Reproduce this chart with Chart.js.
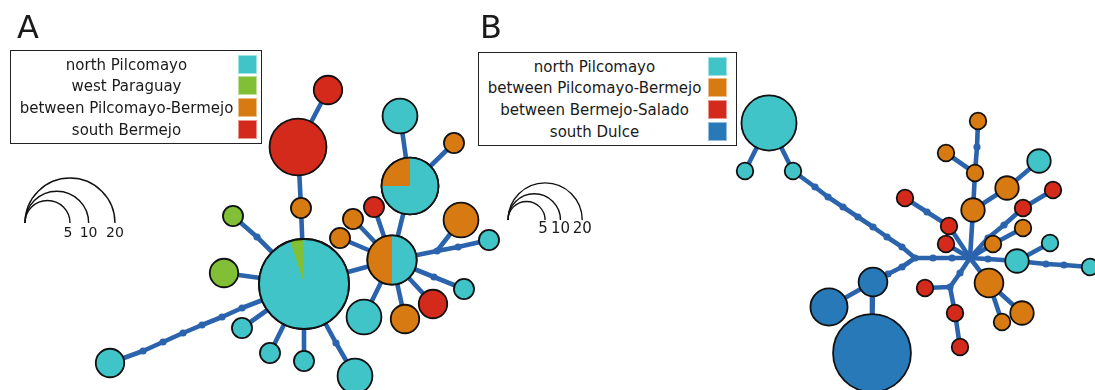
<!DOCTYPE html>
<html>
<head>
<meta charset="utf-8">
<title>Haplotype networks</title>
<script src="https://cdn.jsdelivr.net/npm/chart.js@4/dist/chart.umd.min.js"></script>
<style>
  body { margin: 0; background: #fff; }
  #wrap { position: relative; width: 1095px; height: 390px; overflow: hidden; font-family: 'DejaVu Sans', sans-serif; color: #1a1a1a; }
  #net { position: absolute; left: 0; top: 0; }
  .tag { position: absolute; font-size: 32px; line-height: 32px; }
  .legend { position: absolute; box-sizing: border-box; border: 1.5px solid #222; background: #fff; }
  .legend .lab { position: absolute; left: 0; width: 231px; height: 20px; line-height: 20px; font-size: 15px; text-align: center; white-space: nowrap; }
  .legend .sw { position: absolute; width: 19px; height: 19px; box-shadow: inset 0 0 0 1px rgba(255,255,255,0.5); }
  .tick { position: absolute; font-size: 14px; line-height: 16px; transform: translateX(-50%); }
</style>
</head>
<body>
<div id="wrap">
  <canvas id="net" width="1095" height="390"></canvas>
  <div class="tag" style="left:17px;top:11px">A</div>
  <div class="tag" style="left:480px;top:11px">B</div>
  <div class="legend" id="legA" style="left:10px;top:50px;width:252px;height:94px"></div>
  <div class="legend" id="legB" style="left:478px;top:52px;width:259px;height:94px"></div>
</div>
<script>
// ---- data ----
const categoryNames = {
  NP: 'north Pilcomayo',
  WP: 'west Paraguay',
  PB: 'between Pilcomayo-Bermejo',
  SB: 'south Bermejo',
  BS: 'between Bermejo-Salado',
  SD: 'south Dulce'
};
const legendA = ['NP', 'WP', 'PB', 'SB'];
const legendB = ['NP', 'PB', 'BS', 'SD'];
const sizeTicks = [5, 10, 20];

// panel A: haplotype frequencies per region
const hapA_counts = [
  { NP: 19, WP: 1 }, { SB: 8 }, { SB: 2 }, { PB: 1 }, { WP: 1 }, { WP: 2 },
  { NP: 1 }, { NP: 1 }, { NP: 1 }, { NP: 3 }, { NP: 2 }, { PB: 3, NP: 3 },
  { PB: 1 }, { PB: 1 }, { SB: 1 }, { PB: 2, NP: 6 }, { NP: 3 }, { PB: 1 },
  { PB: 3 }, { NP: 1 }, { NP: 1 }, { SB: 2 }, { PB: 2 }, { NP: 3 }
];
// network layout of panel A
const hapA_layout = [
  [304, 284], [298, 147], [328, 90], [301, 208], [233, 216], [224, 273],
  [242, 328], [270, 353], [304, 361], [355, 376], [110, 363], [392, 260],
  [340, 238], [353, 219], [374, 207], [410, 186], [400, 116], [454, 143],
  [461, 220], [489, 240], [464, 289], [433, 304], [405, 319], [364, 317]
];
const medA_layout = [
  [257, 237], [336, 343], [437, 251], [458, 247], [434, 277],
  [242, 308], [222, 317], [202, 325], [183, 333], [163, 342], [143, 351]
];
const edgesA = [
  ['h0', 'm5'], ['m5', 'm6'], ['m6', 'm7'], ['m7', 'm8'], ['m8', 'm9'], ['m9', 'm10'], ['m10', 'h10'],
  ['h0', 'm0'], ['m0', 'h4'], ['h0', 'h5'], ['h0', 'h3'], ['h3', 'h1'], ['h1', 'h2'],
  ['h0', 'h6'], ['h0', 'h7'], ['h0', 'h8'], ['h0', 'm1'], ['m1', 'h9'], ['h0', 'h11'],
  ['h11', 'h12'], ['h11', 'h13'], ['h11', 'h14'], ['h11', 'h15'], ['h15', 'h16'], ['h15', 'h17'],
  ['h11', 'm2'], ['m2', 'm3'], ['m3', 'h19'], ['m2', 'h18'], ['h11', 'm4'], ['m4', 'h20'],
  ['h11', 'h21'], ['h11', 'h22'], ['h11', 'h23']
];

// panel B
const hapB_counts = [
  { NP: 11 }, { NP: 1 }, { NP: 1 }, { SD: 3 }, { SD: 5 }, { SD: 22 },
  { BS: 1 }, { BS: 1 }, { BS: 1 }, { PB: 2 }, { PB: 1 }, { PB: 1 },
  { PB: 1 }, { PB: 2 }, { NP: 2 }, { BS: 1 }, { BS: 1 }, { PB: 1 },
  { PB: 1 }, { NP: 2 }, { NP: 1 }, { NP: 1 }, { PB: 3 }, { PB: 2 },
  { PB: 1 }, { BS: 1 }, { BS: 1 }, { BS: 1 }
];
const hapB_layout = [
  [769, 123], [745, 171], [793, 171], [873, 282], [829, 307], [872, 353],
  [946, 244], [949, 226], [905, 198], [973, 210], [975, 173], [978, 121],
  [946, 153], [1007, 188], [1039, 161], [1023, 208], [1053, 190], [993, 244],
  [1023, 228], [1017, 261], [1050, 243], [1090, 267], [989, 283], [1022, 313],
  [1002, 322], [925, 288], [955, 313], [960, 347]
];
const medB_layout = [
  [915, 258], [970, 258], [950, 287],
  [815, 187], [828, 197], [843, 207], [858, 217], [873, 227], [887, 237], [902, 247],
  [933, 258], [952, 258], [902, 267], [888, 274], [960, 273], [977, 147], [927, 212],
  [988, 238], [1004, 225], [988, 259], [1046, 264], [1064, 265]
];
const edgesB = [
  ['h0', 'h1'], ['h0', 'h2'], ['h2', 'm3'], ['m3', 'm4'], ['m4', 'm5'], ['m5', 'm6'], ['m6', 'm7'], ['m7', 'm8'], ['m8', 'm9'], ['m9', 'm0'],
  ['m0', 'm10'], ['m10', 'm11'], ['m11', 'm1'],
  ['m0', 'm12'], ['m12', 'm13'], ['m13', 'h3'], ['h3', 'h4'], ['h3', 'h5'],
  ['m1', 'h6'], ['m1', 'h7'], ['h7', 'm16'], ['m16', 'h8'],
  ['m1', 'h9'], ['h9', 'h10'], ['h10', 'm15'], ['m15', 'h11'], ['h10', 'h12'], ['h9', 'h13'], ['h13', 'h14'],
  ['m1', 'm17'], ['m17', 'm18'], ['m18', 'h15'], ['h15', 'h16'],
  ['m1', 'h17'], ['h17', 'h18'],
  ['m1', 'm19'], ['m19', 'h19'], ['h19', 'h20'], ['h19', 'm20'], ['m20', 'm21'], ['m21', 'h21'],
  ['m1', 'h22'], ['h22', 'h23'], ['h22', 'h24'],
  ['m1', 'm14'], ['m14', 'm2'], ['m2', 'h25'], ['m2', 'h26'], ['h26', 'h27']
];

// ---- style ----
const colors = {
  NP: '#41c4c8', WP: '#80bf36', PB: '#d77a12', SB: '#d42a1b', BS: '#d42a1b', SD: '#2879b8'
};
const edgeColor = '#2b64ad';
const sliceOrder = ['WP', 'PB', 'SB', 'BS', 'SD', 'NP'];
const panels = [
  { counts: hapA_counts, layout: hapA_layout, meds: medA_layout, edges: edgesA, k: 10.06, scaleBase: [25, 223], tickY: 224, tickSize: 14 },
  { counts: hapB_counts, layout: hapB_layout, meds: medB_layout, edges: edgesB, k: 8.3, scaleBase: [508, 220], tickY: 220, tickSize: 15 }
];

function total(c) {
  return Object.values(c).reduce((a, b) => a + b, 0);
}

const datasets = [];
panels.forEach(p => {
  const pos = id => id[0] === 'h' ? p.layout[+id.slice(1)] : p.meds[+id.slice(1)];
  p.edges.forEach(([a, b]) => {
    datasets.push({
      data: [{ x: pos(a)[0], y: pos(a)[1] }, { x: pos(b)[0], y: pos(b)[1] }],
      showLine: true, borderColor: edgeColor, borderWidth: 4.6, borderCapStyle: 'round',
      pointRadius: 0, order: 3, clip: false
    });
  });
  datasets.push({
    data: p.meds.map(m => ({ x: m[0], y: m[1] })),
    pointRadius: 3.6, backgroundColor: edgeColor, borderWidth: 0, order: 2, clip: false
  });
  datasets.push({
    type: 'bubble',
    isNodes: true,
    data: p.counts.map((c, i) => ({ x: p.layout[i][0], y: p.layout[i][1], r: p.k * Math.sqrt(total(c)), counts: c })),
    backgroundColor: p.counts.map(c => colors[Object.keys(c)[0]]),
    borderColor: '#111', borderWidth: 1.8, order: 1, clip: false
  });
});

// pie slices for mixed haplotypes
const piePlugin = {
  id: 'pies',
  afterDatasetsDraw(chart) {
    const ctx = chart.ctx;
    chart.data.datasets.forEach((ds, di) => {
      if (!ds.isNodes) return;
      chart.getDatasetMeta(di).data.forEach((el, i) => {
        const c = ds.data[i].counts;
        if (Object.keys(c).length < 2) return;
        const r = el.options.radius, n = total(c);
        let a = -Math.PI / 2;
        ctx.save();
        sliceOrder.forEach(cat => {
          if (!c[cat]) return;
          const da = c[cat] / n * Math.PI * 2;
          ctx.beginPath();
          ctx.moveTo(el.x, el.y);
          ctx.arc(el.x, el.y, r, a, a - da, true);
          ctx.closePath();
          ctx.fillStyle = colors[cat];
          ctx.fill();
          a -= da;
        });
        ctx.beginPath();
        ctx.arc(el.x, el.y, r, 0, Math.PI * 2);
        ctx.lineWidth = 1.8;
        ctx.strokeStyle = '#111';
        ctx.stroke();
        ctx.restore();
      });
    });
  }
};

// size scale arcs
const scalePlugin = {
  id: 'sizeScale',
  afterDraw(chart) {
    const ctx = chart.ctx;
    const xs = chart.scales.x, ys = chart.scales.y;
    ctx.save();
    ctx.strokeStyle = '#111';
    ctx.lineWidth = 1.4;
    panels.forEach(p => {
      const bx = xs.getPixelForValue(p.scaleBase[0]);
      const by = ys.getPixelForValue(p.scaleBase[1]);
      sizeTicks.forEach(n => {
        const r = p.k * Math.sqrt(n);
        ctx.beginPath();
        ctx.arc(bx + r, by, r, Math.PI, Math.PI * 2);
        ctx.stroke();
      });
    });
    ctx.restore();
  }
};

const chart = new Chart(document.getElementById('net'), {
  type: 'scatter',
  data: { datasets },
  options: {
    responsive: false,
    animation: false,
    events: [],
    layout: { padding: 0, autoPadding: false },
    plugins: { legend: { display: false }, tooltip: { enabled: false } },
    scales: {
      x: { type: 'linear', min: 0, max: 1095, display: false },
      y: { type: 'linear', min: 0, max: 390, reverse: true, display: false }
    }
  },
  plugins: [piePlugin, scalePlugin]
});

// legends
function fillLegend(el, keys, swLeft, rowTop) {
  keys.forEach((k, i) => {
    const lab = document.createElement('div');
    lab.className = 'lab';
    lab.style.top = (rowTop + i * 21.9) + 'px';
    lab.textContent = categoryNames[k];
    el.appendChild(lab);
    const sw = document.createElement('div');
    sw.className = 'sw';
    sw.style.left = swLeft + 'px';
    sw.style.top = (rowTop + i * 21.9) + 'px';
    sw.style.background = colors[k];
    el.appendChild(sw);
  });
}
fillLegend(document.getElementById('legA'), legendA, 226.5, 3.5);
fillLegend(document.getElementById('legB'), legendB, 228.5, 3.5);

// scale labels
const wrap = document.getElementById('wrap');
panels.forEach(p => {
  sizeTicks.forEach(n => {
    const t = document.createElement('div');
    t.className = 'tick';
    t.textContent = n;
    t.style.fontSize = p.tickSize + 'px';
    t.style.left = (p.scaleBase[0] + 2 * p.k * Math.sqrt(n) - (n === 5 ? 2 : 0)) + 'px';
    t.style.top = p.tickY + 'px';
    wrap.appendChild(t);
  });
});
</script>
</body>
</html>
